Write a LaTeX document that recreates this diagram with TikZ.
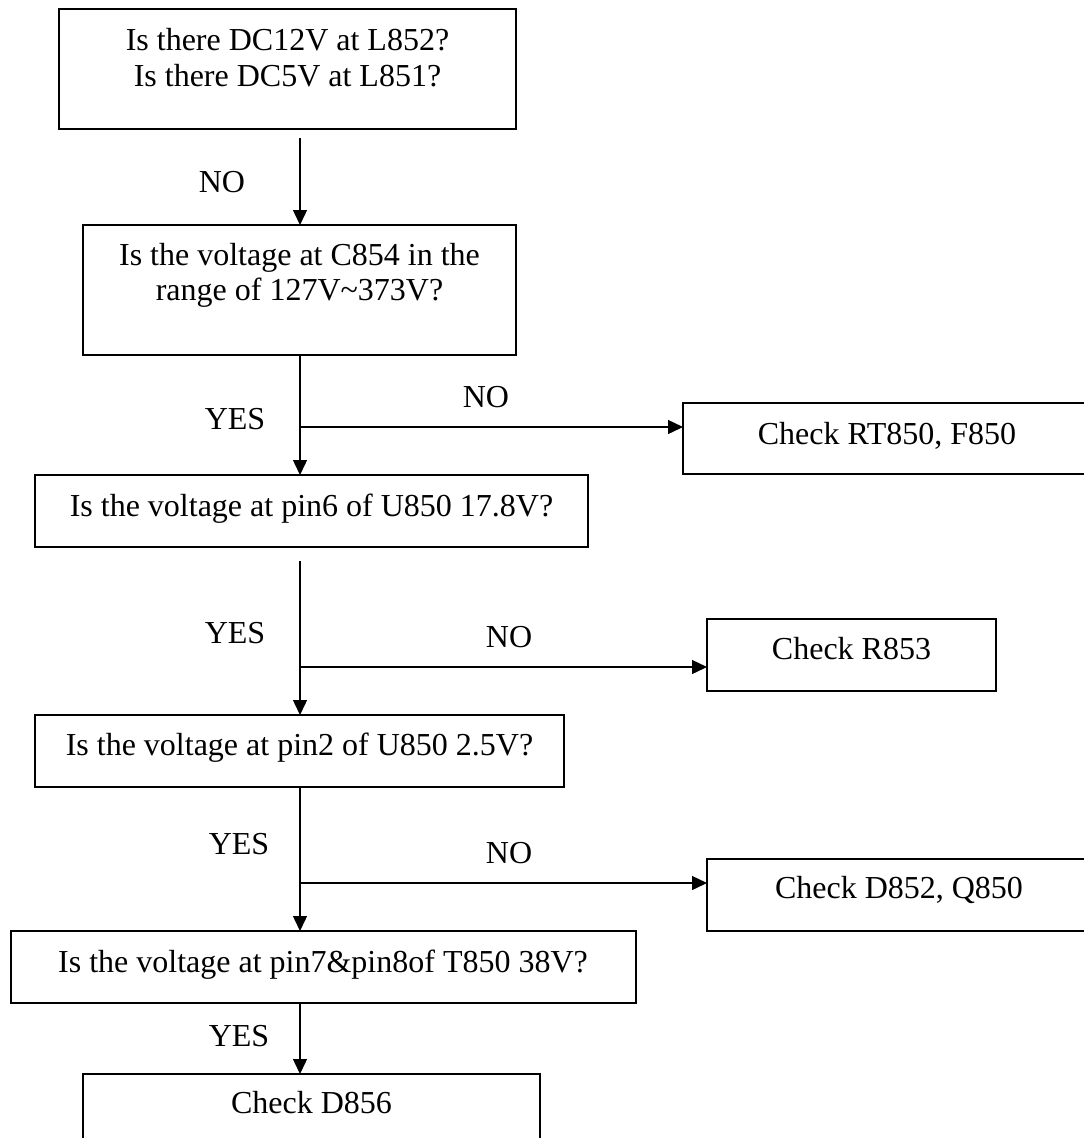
\documentclass[tikz,border=0pt]{standalone}
\usepackage{fontspec}
\setmainfont{Liberation Serif}
\usetikzlibrary{arrows.meta}
\begin{document}
\begin{tikzpicture}[x=1pt,y=-1pt,
  box/.style={draw,line width=1.5pt,anchor=north west,inner sep=0pt,outer sep=0pt},
  txt/.style={inner sep=0pt,anchor=base,font=\fontsize{32}{36}\selectfont},
  lbl/.style={inner sep=0pt,anchor=base,font=\fontsize{32}{36}\selectfont},
  arr/.style={line width=1.4pt,-{Triangle[length=15pt,width=14pt]}}]
\useasboundingbox (0,0) rectangle (1084,1138);
\clip (0,0) rectangle (1084,1138);
% boxes
\node[box,minimum width=457pt,minimum height=120pt] (b1) at (59,9) {};
\node[box,minimum width=433pt,minimum height=130pt] (b2) at (83,225) {};
\node[box,minimum width=420pt,minimum height=71pt] (rt) at (683,403) {};
\node[box,minimum width=553pt,minimum height=72pt] (b3) at (35,475) {};
\node[box,minimum width=289pt,minimum height=72pt] (r853) at (707,619) {};
\node[box,minimum width=529pt,minimum height=72pt] (b4) at (35,715) {};
\node[box,minimum width=400pt,minimum height=72pt] (d852) at (707,859) {};
\node[box,minimum width=625pt,minimum height=72pt] (b5) at (11,931) {};
\node[box,minimum width=457pt,minimum height=90pt] (b6) at (83,1074) {};
% texts
\node[txt] (t1a) at (287.5,50) {Is there DC12V at L852?};
\node[txt] (t1b) at (287.5,86) {Is there DC5V at L851?};
\node[txt] (t2a) at (299.5,265) {Is the voltage at C854 in the};
\node[txt] (t2b) at (299.5,300) {range of 127V\char`~373V?};
\node[txt] (trt) at (887,444) {Check RT850, F850};
\node[txt] (t3) at (311.5,516) {Is the voltage at pin6 of U850 17.8V?};
\node[txt] (tr853) at (851.5,659) {Check R853};
\node[txt] (t4) at (299.5,755) {Is the voltage at pin2 of U850 2.5V?};
\node[txt] (td852) at (899,898) {Check D852, Q850};
\node[txt] (t5) at (323,972) {Is the voltage at pin7\&pin8of T850 38V?};
\node[txt] (t6) at (311.5,1113) {Check D856};
% labels
\node[lbl] (l1) at (222,192) {NO};
\node[lbl] (l2) at (235,429) {YES};
\node[lbl] (l3) at (486,407) {NO};
\node[lbl] (l4) at (235,643) {YES};
\node[lbl] (l5) at (509,647) {NO};
\node[lbl] (l6) at (239,854) {YES};
\node[lbl] (l7) at (509,863) {NO};
\node[lbl] (l8) at (239,1046) {YES};
% connector points
\coordinate (s1) at (300,138);
\coordinate (s2) at (300,355);
\coordinate (j2) at (300,427);
\coordinate (s3) at (300,561);
\coordinate (j3) at (300,667);
\coordinate (s4) at (300,787);
\coordinate (j4) at (300,883);
\coordinate (s5) at (300,1003);
% connectors
\draw[arr] (s1) -- (s1 |- b2.north);
\draw[arr] (s2) -- (s2 |- b3.north);
\draw[arr] (j2) -- (j2 -| rt.west);
\draw[arr] (s3) -- (s3 |- b4.north);
\draw[arr] (j3) -- (j3 -| r853.west);
\draw[arr] (s4) -- (s4 |- b5.north);
\draw[arr] (j4) -- (j4 -| d852.west);
\draw[arr] (s5) -- (s5 |- b6.north);
\end{tikzpicture}
\end{document}
